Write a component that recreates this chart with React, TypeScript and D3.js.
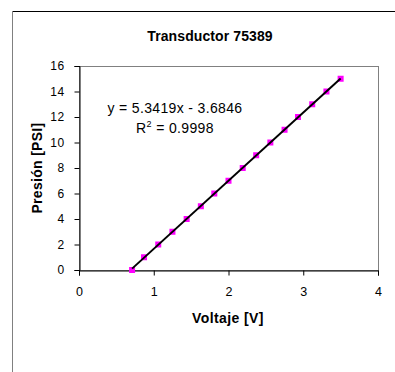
import * as React from "react";
import * as d3 from "d3";

// measured points (voltage vs pressure)
const voltaje = [0.71, 0.87, 1.06, 1.25, 1.44, 1.63, 1.81, 2.0, 2.19, 2.37, 2.56, 2.75, 2.93, 3.12, 3.31, 3.5];
const presion = [0, 1, 2, 3, 4, 5, 6, 7, 8, 9, 10, 11, 12, 13, 14, 15];
const xTicks = [0, 1, 2, 3, 4];
const yTicks = [0, 2, 4, 6, 8, 10, 12, 14, 16];
const slope = 5.3419;
const intercept = -3.6846;

const W = 395;
const H = 372;

const Chart = () => {
  const svgRef = React.useRef<SVGSVGElement>(null);

  React.useEffect(() => {
    const svg = d3.select(svgRef.current);
    svg.selectAll("*").remove();

    const left = 79, right = 378, top = 66, bottom = 270;
    const x = d3.scaleLinear().domain([0, 4]).range([left, right]);
    const y = d3.scaleLinear().domain([0, 16]).range([bottom, top]);
    const font = "Liberation Sans, Arial, sans-serif";

    svg.append("rect").attr("width", W).attr("height", H).attr("fill", "#fff");

    // outer frame (top and left edge visible)
    svg.append("line").attr("x1", 12).attr("x2", W).attr("y1", 11.5).attr("y2", 11.5)
      .attr("stroke", "#000").attr("stroke-width", 1);
    svg.append("line").attr("x1", 12.5).attr("x2", 12.5).attr("y1", 11).attr("y2", H)
      .attr("stroke", "#808080").attr("stroke-width", 1);

    // plot area
    svg.append("rect")
      .attr("x", left + 0.5).attr("y", top + 0.5)
      .attr("width", right - left).attr("height", bottom - top)
      .attr("fill", "none").attr("stroke", "#808080");

    const yAxis = svg.append("g")
      .attr("transform", `translate(${left + 0.5},0)`)
      .call(d3.axisLeft(y).tickValues(yTicks).tickSize(5).tickPadding(10).tickFormat((d) => `${d}`));
    yAxis.select(".domain").attr("stroke", "#000");
    yAxis.selectAll("line").attr("stroke", "#000");
    yAxis.selectAll("text").attr("font-family", font).attr("font-size", 12).attr("fill", "#000")
      .attr("letter-spacing", 0.4);

    const xAxis = svg.append("g")
      .attr("transform", `translate(0,${bottom + 0.5})`)
      .call(d3.axisBottom(x).tickValues(xTicks).tickSize(5).tickPadding(12).tickFormat((d) => `${d}`));
    xAxis.select(".domain").attr("stroke", "#000");
    xAxis.selectAll("line").attr("stroke", "#000");
    xAxis.selectAll("text").attr("font-family", font).attr("font-size", 12.5).attr("fill", "#000");

    const data = voltaje.map((v, i) => ({ v, p: presion[i] }));

    svg.append("g").selectAll("rect").data(data).enter().append("rect")
      .attr("x", (d) => x(d.v) - 3)
      .attr("y", (d) => y(d.p) - 3)
      .attr("width", 6).attr("height", 6)
      .attr("fill", "#ff00ff");

    // linear trendline
    const x0 = d3.min(voltaje) as number;
    const x1 = d3.max(voltaje) as number;
    svg.append("line")
      .attr("x1", x(x0)).attr("y1", y(slope * x0 + intercept))
      .attr("x2", x(x1)).attr("y2", y(slope * x1 + intercept))
      .attr("stroke", "#000").attr("stroke-width", 2);

    svg.append("text").attr("x", 210).attr("y", 41).attr("text-anchor", "middle")
      .attr("font-family", font).attr("font-size", 14).attr("font-weight", "bold")
      .attr("letter-spacing", 0.1)
      .text("Transductor 75389");

    svg.append("text").attr("x", 175).attr("y", 113).attr("text-anchor", "middle")
      .attr("font-family", font).attr("font-size", 14).attr("fill", "#000")
      .attr("letter-spacing", 0.35)
      .text(`y = ${slope}x - ${Math.abs(intercept)}`);

    const r2 = svg.append("text").attr("x", 175).attr("y", 133).attr("text-anchor", "middle")
      .attr("font-family", font).attr("font-size", 14).attr("fill", "#000")
      .attr("letter-spacing", 0.35);
    r2.append("tspan").text("R");
    r2.append("tspan").attr("dy", -6).attr("font-size", 9).text("2");
    r2.append("tspan").attr("dy", 6).text(" = 0.9998");

    svg.append("text").attr("x", 228).attr("y", 323).attr("text-anchor", "middle")
      .attr("font-family", font).attr("font-size", 14).attr("font-weight", "bold")
      .attr("letter-spacing", 0.4)
      .text("Voltaje [V]");

    svg.append("text")
      .attr("transform", `translate(42,${(top + bottom) / 2}) rotate(-90)`)
      .attr("text-anchor", "middle")
      .attr("font-family", font).attr("font-size", 14).attr("font-weight", "bold")
      .attr("letter-spacing", 0.3)
      .text("Presión [PSI]");
  }, []);

  return <svg ref={svgRef} width={W} height={H} style={{ position: "absolute", left: 0, top: 0 }} />;
};

export default function App() {
  return <Chart />;
}
